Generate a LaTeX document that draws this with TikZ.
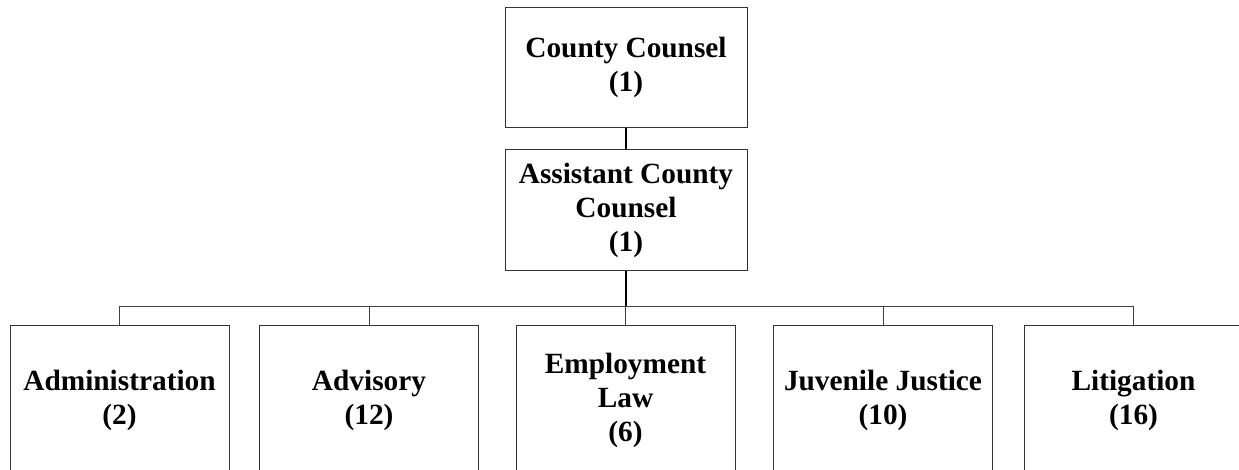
\documentclass[tikz,border=0pt]{standalone}
\usepackage{fontspec}
\setmainfont{Liberation Serif}
\usepackage{tikz}
\usetikzlibrary{positioning,calc}

\begin{document}
\begin{tikzpicture}[x=0.75pt,y=-0.75pt,
    unitbox/.style={draw=black!80,line width=0.75pt,align=center,inner sep=2pt,
      font=\bfseries\fontsize{22}{25.5}\selectfont},
    topbox/.style={unitbox,minimum width=181.5pt,minimum height=90.5pt},
    subbox/.style={unitbox,minimum width=164.25pt,minimum height=112.5pt},
    conn/.style={draw=black!75,line width=0.75pt},
    trunk/.style={draw=black,line width=1.5pt}]
    \clip (0,0) rectangle (1239,469);
    \node[topbox] (cc) at (626,67.5) {County Counsel\\(1)};
    \node[topbox] (acc) at (626,210) {Assistant County\\Counsel\\(1)};
    \node[subbox] (adm) at (119.5,400) {Administration\\(2)};
    \node[subbox] (adv) at (369,400) {Advisory\\(12)};
    \node[subbox] (emp) at (625.5,400) {Employment\\Law\\(6)};
    \node[subbox] (juv) at (883,400) {Juvenile Justice\\(10)};
    \node[subbox] (lit) at (1133.5,400) {Litigation\\(16)};
    \coordinate (bus) at (626,306);
    % reporting lines
    \draw[trunk] (cc.south) -- (acc.north);
    \draw[trunk] (acc.south) -- (bus);
    \draw[conn] (adm.north |- bus) -- (lit.north |- bus);
    \foreach \unit in {adm,adv,emp,juv,lit}
        \draw[conn] (\unit.north) -- (\unit.north |- bus);
\end{tikzpicture}
\end{document}
